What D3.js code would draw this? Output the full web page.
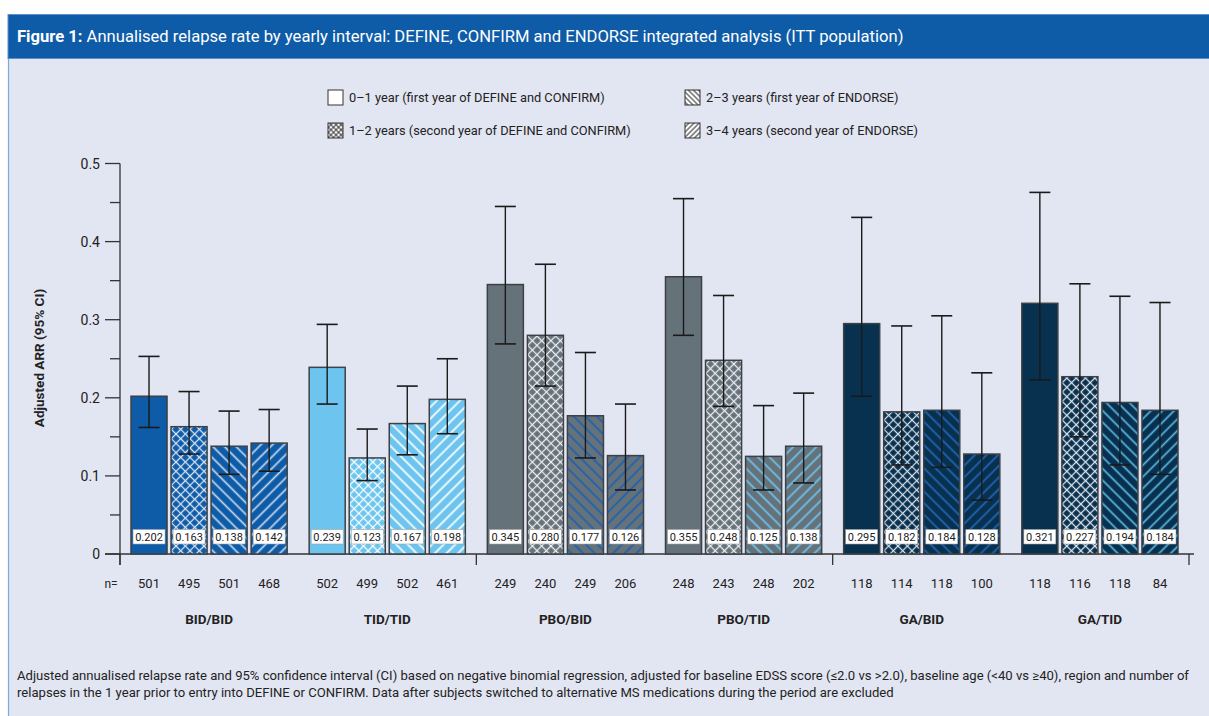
<!DOCTYPE html>
<html>
<head>
<meta charset="utf-8">
<script src="https://cdn.jsdelivr.net/npm/d3@7"></script>
<style>
  html, body { margin: 0; padding: 0; background: #ffffff; }
  svg { display: block; font-family: Roboto, "DejaVu Sans", sans-serif; }
</style>
</head>
<body>
<svg id="chart" width="1209" height="716"></svg>
<script>
// Treatment groups (first period / second period)
const groups = ["BID/BID", "TID/TID", "PBO/BID", "PBO/TID", "GA/BID", "GA/TID"];
// Yearly intervals
const periods = [
  "0–1 year (first year of DEFINE and CONFIRM)",
  "1–2 years (second year of DEFINE and CONFIRM)",
  "2–3 years (first year of ENDORSE)",
  "3–4 years (second year of ENDORSE)"
];
// Adjusted annualised relapse rate, one row per group, one value per interval
const arrValues = [
  [0.202, 0.163, 0.138, 0.142],
  [0.239, 0.123, 0.167, 0.198],
  [0.345, 0.280, 0.177, 0.126],
  [0.355, 0.248, 0.125, 0.138],
  [0.295, 0.182, 0.184, 0.128],
  [0.321, 0.227, 0.194, 0.184]
];
// 95% CI bounds
const ciLower = [
  [0.162, 0.128, 0.102, 0.106],
  [0.192, 0.094, 0.127, 0.154],
  [0.269, 0.215, 0.123, 0.082],
  [0.280, 0.189, 0.082, 0.091],
  [0.202, 0.114, 0.111, 0.069],
  [0.223, 0.150, 0.114, 0.102]
];
const ciUpper = [
  [0.253, 0.208, 0.183, 0.185],
  [0.294, 0.160, 0.215, 0.250],
  [0.445, 0.371, 0.258, 0.192],
  [0.455, 0.331, 0.190, 0.206],
  [0.431, 0.292, 0.305, 0.232],
  [0.463, 0.346, 0.330, 0.322]
];
// Number of patients per interval
const nValues = [
  [501, 495, 501, 468],
  [502, 499, 502, 461],
  [249, 240, 249, 206],
  [248, 243, 248, 202],
  [118, 114, 118, 100],
  [118, 116, 118, 84]
];
const yTicks = [0, 0.1, 0.2, 0.3, 0.4, 0.5];

// Styling: bar fill per group, hatch colour per group
const groupFill = ["#0e5ba8", "#6dc5ef", "#66727a", "#66727a", "#08304f", "#08304f"];
const crossColor = ["#dbe6f3", "#ffffff", "#eef0f2", "#eef0f2", "#d5dde6", "#e4e9ee"];
const lineColor = ["#c3d7ee", "#ffffff", "#1b60b3", "#6cc4ee", "#2066b8", "#5cb6e2"];

const svg = d3.select("#chart");
const W = 1209, H = 716;

// Page frame
svg.append("rect").attr("x", 0).attr("y", 0).attr("width", W).attr("height", H).attr("fill", "#ffffff");
svg.append("rect").attr("x", 8.5).attr("y", 58).attr("width", W).attr("height", H)
  .attr("fill", "#e2e6f2").attr("stroke", "#7fa9d8").attr("stroke-width", 1.2);
svg.append("rect").attr("x", 8).attr("y", 14.5).attr("width", W).attr("height", 44)
  .attr("fill", "#0e5ca8").attr("stroke", "#5d90cc").attr("stroke-width", 1);

const title = svg.append("text").attr("x", 17).attr("y", 42)
  .attr("fill", "#ffffff").attr("font-size", 16.6);
title.append("tspan").attr("font-weight", "bold").text("Figure 1: ");
title.append("tspan").text("Annualised relapse rate by yearly interval: DEFINE, CONFIRM and ENDORSE integrated analysis (ITT population)");

// Scales
const y = d3.scaleLinear().domain([0, 0.5]).range([554, 163.5]);
const xGroup = d3.scaleBand().domain(groups).range([120, 1189]).padding(0);
const xBar = d3.scaleBand().domain(d3.range(periods.length))
  .range([11, xGroup.bandwidth() - 11]).paddingInner(0.1).paddingOuter(0);

// Hatch patterns
const defs = svg.append("defs");
function hatch(id, bg, color, angles, spacing, width) {
  const p = defs.append("pattern").attr("id", id)
    .attr("patternUnits", "userSpaceOnUse")
    .attr("width", spacing).attr("height", spacing)
    .attr("patternTransform", `rotate(${angles[0]})`);
  if (bg) p.append("rect").attr("width", spacing).attr("height", spacing).attr("fill", bg);
  p.append("line").attr("x1", spacing / 2).attr("y1", 0).attr("x2", spacing / 2).attr("y2", spacing)
    .attr("stroke", color).attr("stroke-width", width);
  if (angles.length > 1) {
    p.append("line").attr("x1", 0).attr("y1", spacing / 2).attr("x2", spacing).attr("y2", spacing / 2)
      .attr("stroke", color).attr("stroke-width", width);
  }
}
groups.forEach((g, gi) => {
  hatch(`cross-${gi}`, groupFill[gi], crossColor[gi], [45, -45], 6.6, 1.25);
  hatch(`back-${gi}`, groupFill[gi], lineColor[gi], [-45], 8.2, 1.7);
  hatch(`fwd-${gi}`, groupFill[gi], lineColor[gi], [45], 8.2, 1.7);
});
hatch("leg-cross", "#ffffff", "#222", [45, -45], 3.6, 0.9);
hatch("leg-back", "#ffffff", "#222", [-45], 3.6, 1);
hatch("leg-fwd", "#ffffff", "#222", [45], 3.6, 1);

function fillFor(gi, pi) {
  if (pi === 0) return groupFill[gi];
  return `url(#${["", "cross", "back", "fwd"][pi]}-${gi})`;
}

// Legend
const legendFills = ["#ffffff", "url(#leg-cross)", "url(#leg-back)", "url(#leg-fwd)"];
const legendPos = [[328, 90], [328, 123], [685, 90], [685, 123]];
periods.forEach((p, i) => {
  const [lx, ly] = legendPos[i];
  svg.append("rect").attr("x", lx).attr("y", ly).attr("width", 15).attr("height", 15)
    .attr("fill", legendFills[i]).attr("stroke", "#333").attr("stroke-width", 1);
  svg.append("text").attr("x", lx + 21).attr("y", ly + 12)
    .attr("font-size", 12.8).attr("fill", "#222").text(p);
});

// Y axis
const yAxisG = svg.append("g");
yAxisG.append("line").attr("x1", 120).attr("x2", 120).attr("y1", y(0.5)).attr("y2", 565)
  .attr("stroke", "#333").attr("stroke-width", 1.3);
d3.range(0, 0.501, 0.05).forEach(v => {
  const major = Math.abs(Math.round(v * 10) - v * 10) < 1e-6;
  yAxisG.append("line").attr("x1", major ? 105 : 110).attr("x2", 120)
    .attr("y1", y(v)).attr("y2", y(v)).attr("stroke", "#333").attr("stroke-width", 1.3);
});
yAxisG.selectAll("text.tick").data(yTicks).join("text").attr("class", "tick")
  .attr("x", 100).attr("y", d => y(d)).attr("dy", "0.36em")
  .attr("text-anchor", "end").attr("font-size", 14).attr("fill", "#222")
  .text(d => d === 0 ? "0" : d3.format(".1f")(d));
svg.append("text").attr("transform", `translate(44,${358}) rotate(-90)`)
  .attr("text-anchor", "middle").attr("font-size", 13.5).attr("font-weight", "bold")
  .attr("fill", "#222").text("Adjusted ARR (95% CI)");

// X axis baseline and pair separators
svg.append("line").attr("x1", 105).attr("x2", 1194).attr("y1", y(0)).attr("y2", y(0))
  .attr("stroke", "#333").attr("stroke-width", 1.3);
[0, 2, 4].map(i => xGroup(groups[i])).concat([xGroup.range()[1]]).forEach(x => {
  svg.append("line").attr("x1", x).attr("x2", x).attr("y1", y(0)).attr("y2", 565)
    .attr("stroke", "#333").attr("stroke-width", 1.3);
});

// Bars
const groupG = svg.selectAll("g.group").data(groups).join("g").attr("class", "group")
  .attr("transform", g => `translate(${xGroup(g)},0)`);

groupG.each(function (g, gi) {
  const gSel = d3.select(this);
  const rows = arrValues[gi].map((v, pi) => ({ v, pi, lo: ciLower[gi][pi], hi: ciUpper[gi][pi], n: nValues[gi][pi] }));

  gSel.selectAll("rect.bar").data(rows).join("rect").attr("class", "bar")
    .attr("x", d => xBar(d.pi)).attr("width", xBar.bandwidth())
    .attr("y", d => y(d.v)).attr("height", d => y(0) - y(d.v))
    .attr("fill", d => fillFor(gi, d.pi))
    .attr("stroke", "#3d4145").attr("stroke-width", 1.5);

  // Error bars
  const cx = d => xBar(d.pi) + xBar.bandwidth() / 2;
  gSel.selectAll("line.ci").data(rows).join("line").attr("class", "ci")
    .attr("x1", cx).attr("x2", cx).attr("y1", d => y(d.hi)).attr("y2", d => y(d.lo))
    .attr("stroke", "#1a1a1a").attr("stroke-width", 1.4);
  ["hi", "lo"].forEach(k => {
    gSel.selectAll(`line.cap-${k}`).data(rows).join("line").attr("class", `cap-${k}`)
      .attr("x1", d => cx(d) - 10.5).attr("x2", d => cx(d) + 10.5)
      .attr("y1", d => y(d[k])).attr("y2", d => y(d[k]))
      .attr("stroke", "#1a1a1a").attr("stroke-width", 1.6);
  });

  // Value labels
  gSel.selectAll("rect.lab").data(rows).join("rect").attr("class", "lab")
    .attr("x", d => cx(d) - 16).attr("y", 529.5).attr("width", 32).attr("height", 14.5)
    .attr("fill", "#ffffff").attr("stroke", "#9aa0a6").attr("stroke-width", 0.6);
  gSel.selectAll("text.val").data(rows).join("text").attr("class", "val")
    .attr("x", cx).attr("y", 540.8).attr("text-anchor", "middle")
    .attr("font-size", 11).attr("fill", "#222")
    .text(d => d3.format(".3f")(d.v));

  // n values
  gSel.selectAll("text.n").data(rows).join("text").attr("class", "n")
    .attr("x", cx).attr("y", 588).attr("text-anchor", "middle")
    .attr("font-size", 13).attr("fill", "#222").text(d => d.n);

  // Group label
  gSel.append("text").attr("x", xGroup.bandwidth() / 2).attr("y", 624)
    .attr("text-anchor", "middle").attr("font-size", 13.5).attr("font-weight", "bold")
    .attr("fill", "#222").text(g);
});

svg.append("text").attr("x", 111).attr("y", 588).attr("text-anchor", "middle")
  .attr("font-size", 12).attr("fill", "#222").text("n=");

// Footnote
const foot = [
  "Adjusted annualised relapse rate and 95% confidence interval (CI) based on negative binomial regression, adjusted for baseline EDSS score (≤2.0 vs >2.0), baseline age (<40 vs ≥40), region and number of",
  "relapses in the 1 year prior to entry into DEFINE or CONFIRM. Data after subjects switched to alternative MS medications during the period are excluded"
];
svg.selectAll("text.foot").data(foot).join("text").attr("class", "foot")
  .attr("x", 17).attr("y", (d, i) => 680 + i * 17)
  .attr("font-size", 13.1).attr("fill", "#222").text(d => d);
</script>
</body>
</html>
